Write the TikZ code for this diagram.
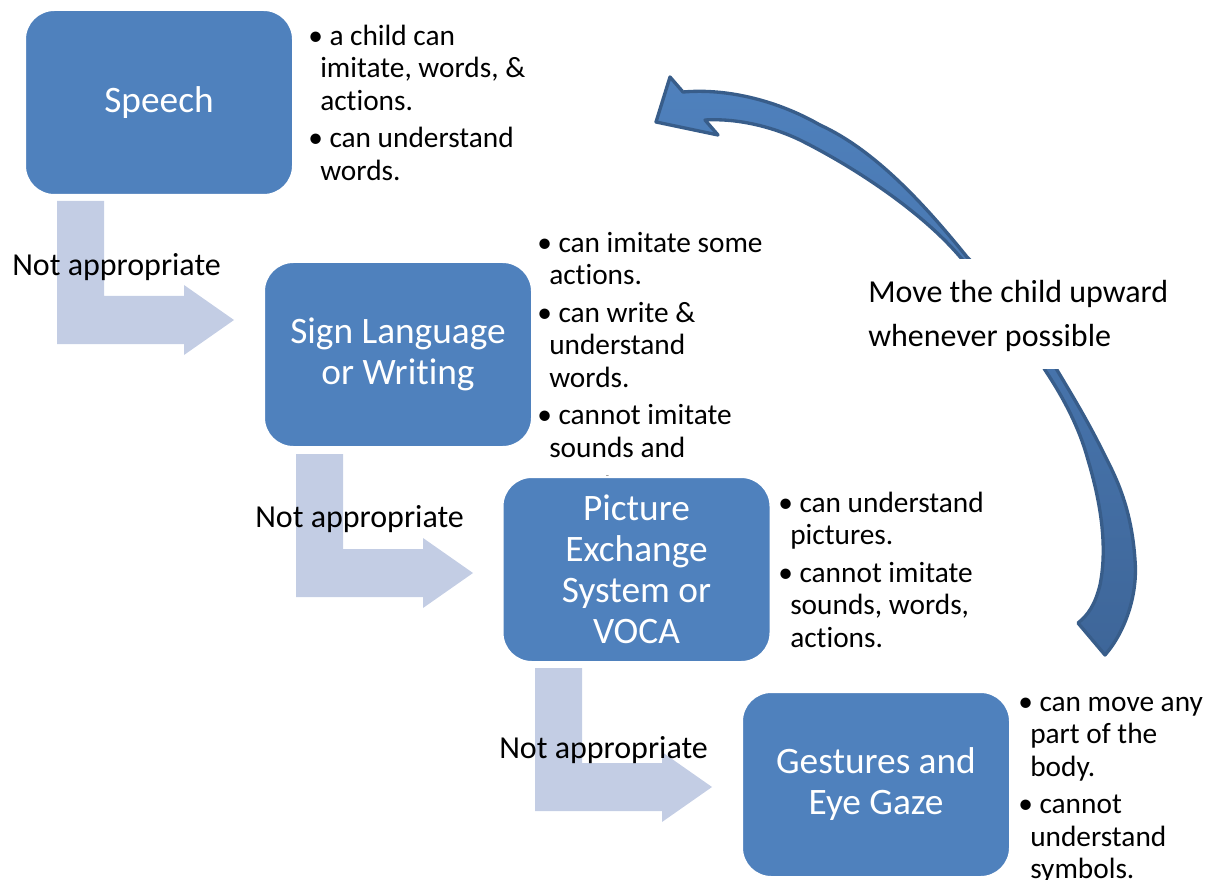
\documentclass[tikz,border=0pt]{standalone}
\usepackage{fontspec}
\setmainfont{Carlito}[Ligatures=NoCommon]
\definecolor{boxblue}{HTML}{4F81BD}
\definecolor{elbowfill}{HTML}{C3CDE4}
\definecolor{arrowline}{HTML}{385D8A}
\definecolor{arrowtop}{HTML}{4F81BD}
\definecolor{arrowbot}{HTML}{3E6699}
\begin{document}
\begin{tikzpicture}[x=0.75pt,y=-0.75pt,
  stage/.style={fill=boxblue, draw=white, line width=1.5pt, rounded corners=22pt,
    minimum width=201pt, minimum height=138.75pt, text=white, align=center,
    font=\fontsize{28}{30.7}\selectfont, inner sep=0pt},
  bullets/.style={anchor=north west, inner sep=0pt, align=left,
    font=\fontsize{22}{24.4}\selectfont},
  movetext/.style={anchor=north west, inner sep=0pt, align=left,
    font=\fontsize{24}{33}\selectfont},
  notapp/.style={anchor=base west, inner sep=0pt, font=\fontsize{24}{29}\selectfont},
  elbowarrow/.pic={
    \fill[elbowfill] (57,201) -- (104,201) -- (104,296) -- (184,296) -- (184,285)
      -- (234,320) -- (184,355) -- (184,344) -- (57,344) -- cycle;
  }
]
\useasboundingbox (0,0) rectangle (1212,880);

% elbow arrows
\pic at (0,0) {elbowarrow};
\pic at (239,253) {elbowarrow};
\pic at (478,467) {elbowarrow};

% labels
\node[notapp] (na1) at (12,276) {Not appropriate};
\node[notapp] (na2) at (255,527) {Not appropriate};
\node[notapp] (na3) at (499,758) {Not appropriate};

% bullet lists
\node[bullets] (l1) at (308,22.2) {\strut• a child can\\\hspace*{9pt}imitate, words, \&\\\hspace*{9pt}actions.\\[3.75pt]• can understand\\\hspace*{9pt}words.};
\node[bullets] (l2) at (537,229.2) {\strut• can imitate some\\\hspace*{9pt}actions.\\[3.75pt]• can write \&\\\hspace*{9pt}understand\\\hspace*{9pt}words.\\[3.75pt]• cannot imitate\\\hspace*{9pt}sounds and\\[5pt]\hspace*{9pt}words.};
\node[bullets] (l3) at (778,489.2) {\strut• can understand\\\hspace*{9pt}pictures.\\[3.75pt]• cannot imitate\\\hspace*{9pt}sounds, words,\\\hspace*{9pt}actions.};
\node[bullets] (l4) at (1018,688) {\strut• can move any\\\hspace*{9pt}part of the\\\hspace*{9pt}body.\\[3.75pt]• cannot\\\hspace*{9pt}understand\\\hspace*{9pt}symbols.};

% boxes
\node[stage] (speech) at (159,102.5) {Speech};
\node[stage] (sign) at (398,354.5) {Sign Language\\or Writing};
\node[stage] (pecs) at (636.5,569.5) {Picture\\Exchange\\System or\\VOCA};
\node[stage] (gest) at (876,784.5) {Gestures and\\Eye Gaze};

% curved arrow
\shadedraw[top color=arrowtop, bottom color=arrowbot, draw=arrowline, line width=2.5pt, line join=round]
 (1105,655) .. controls (1125,632) and (1138,595) .. (1135,560)
 .. controls (1132,515) and (1120,485) .. (1107,460)
 .. controls (1090,425) and (1075,400) .. (1057,370)
 .. controls (1030,325) and (1000,290) .. (967,257)
 .. controls (925,205) and (875,150) .. (820,125)
 .. controls (780,102) and (730,88) .. (683,92)
 -- (670,77) -- (656,122) -- (718,135) -- (705,120)
 .. controls (740,118) and (775,128) .. (800,140)
 .. controls (860,170) and (925,215) .. (961,258)
 .. controls (990,290) and (1020,325) .. (1045,370)
 .. controls (1065,400) and (1080,430) .. (1088,460)
 .. controls (1100,500) and (1108,545) .. (1100,585)
 .. controls (1095,605) and (1088,615) .. (1078,623)
 -- cycle;
\fill[white] (925,259) rectangle (1085,369);
\node[movetext] (move) at (868,271.2) {\strut Move the child upward\\whenever possible};
\end{tikzpicture}
\end{document}
